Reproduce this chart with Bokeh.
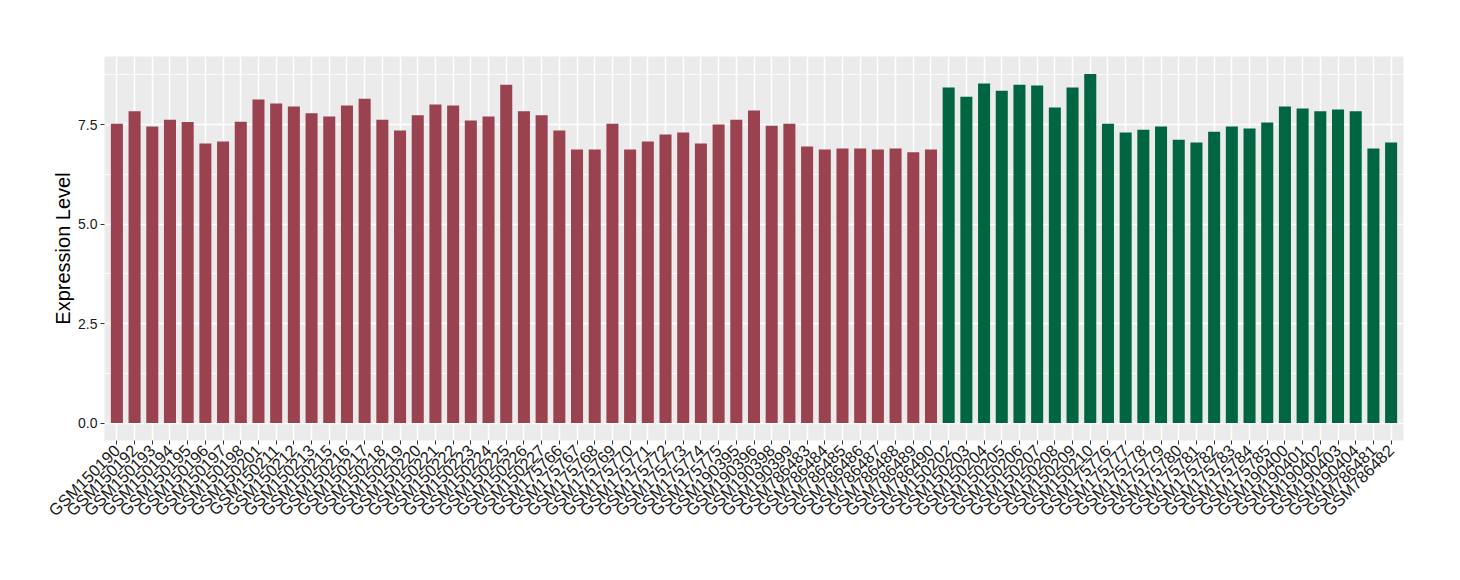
import math
from bokeh.plotting import figure
from bokeh.models import FactorRange, Range1d, FixedTicker, ColumnDataSource
from bokeh.embed import file_html
from bokeh.resources import INLINE

group_a_samples = [
    "GSM150190", "GSM150192", "GSM150193", "GSM150194", "GSM150195", "GSM150196",
    "GSM150197", "GSM150198", "GSM150201", "GSM150211", "GSM150212", "GSM150213",
    "GSM150215", "GSM150216", "GSM150217", "GSM150218", "GSM150219", "GSM150220",
    "GSM150221", "GSM150222", "GSM150223", "GSM150224", "GSM150225", "GSM150226",
    "GSM150227", "GSM175766", "GSM175767", "GSM175768", "GSM175769", "GSM175770",
    "GSM175771", "GSM175772", "GSM175773", "GSM175774", "GSM175775", "GSM190395",
    "GSM190396", "GSM190398", "GSM190399", "GSM786483", "GSM786484", "GSM786485",
    "GSM786486", "GSM786487", "GSM786488", "GSM786489", "GSM786490",
]
group_a_values = [
    7.52, 7.83, 7.45, 7.62, 7.56, 7.02, 7.07, 7.57, 8.13, 8.03, 7.95, 7.78,
    7.70, 7.98, 8.15, 7.62, 7.35, 7.73, 8.00, 7.98, 7.60, 7.70, 8.50, 7.83,
    7.73, 7.35, 6.87, 6.87, 7.52, 6.87, 7.07, 7.25, 7.30, 7.02, 7.50, 7.62,
    7.85, 7.47, 7.52, 6.95, 6.87, 6.90, 6.90, 6.87, 6.90, 6.80, 6.87,
]
group_b_samples = [
    "GSM150202", "GSM150203", "GSM150204", "GSM150205", "GSM150206", "GSM150207",
    "GSM150208", "GSM150209", "GSM150210", "GSM175776", "GSM175777", "GSM175778",
    "GSM175779", "GSM175780", "GSM175781", "GSM175782", "GSM175783", "GSM175784",
    "GSM175785", "GSM190400", "GSM190401", "GSM190402", "GSM190403", "GSM190404",
    "GSM786481", "GSM786482",
]
group_b_values = [
    8.43, 8.20, 8.53, 8.35, 8.50, 8.48, 7.93, 8.43, 8.77, 7.52, 7.30, 7.37,
    7.45, 7.12, 7.05, 7.32, 7.45, 7.40, 7.55, 7.95, 7.90, 7.83, 7.88, 7.83,
    6.90, 7.05,
]
y_ticks = [0.0, 2.5, 5.0, 7.5]
y_minor = [1.25, 3.75, 6.25, 8.75]

color_a = "#9B4250"
color_b = "#006642"

samples = group_a_samples + group_b_samples
values = group_a_values + group_b_values
colors = [color_a] * len(group_a_samples) + [color_b] * len(group_b_samples)

src = ColumnDataSource(dict(x=samples, top=values, color=colors))

vmax = max(values)
p = figure(
    width=1444, height=564,
    x_range=FactorRange(factors=samples, range_padding=0.2, range_padding_units="absolute"),
    y_range=Range1d(-0.05 * vmax, 1.05 * vmax),
    output_backend="svg", toolbar_location=None,
    min_border_left=104, min_border_right=41, min_border_top=56, min_border_bottom=124,
)
p.vbar(x="x", top="top", bottom=0, width=0.68, color="color", source=src, line_color=None)

p.background_fill_color = "#EBEBEB"
p.border_fill_color = "white"
p.outline_line_color = None

p.xgrid.grid_line_color = "white"
p.xgrid.grid_line_width = 1.5
p.ygrid.grid_line_color = "white"
p.ygrid.grid_line_width = 1.5
p.ygrid.minor_grid_line_color = "white"
p.ygrid.minor_grid_line_width = 0.8

p.yaxis.ticker = FixedTicker(ticks=y_ticks, minor_ticks=y_minor)
p.yaxis.major_label_overrides = {t: f"{t:.1f}" for t in y_ticks}
p.yaxis.axis_label = "Expression Level"
p.yaxis.axis_label_text_font = "Liberation Sans"
p.yaxis.axis_label_text_font_size = "20px"
p.yaxis.axis_label_text_font_style = "normal"
p.yaxis.axis_label_text_color = "black"
p.yaxis.axis_label_standoff = 1

for ax in (p.xaxis[0], p.yaxis[0]):
    ax.axis_line_color = None
    ax.major_tick_line_color = "#333333"
    ax.major_tick_in = 0
    ax.major_tick_out = 4
    ax.minor_tick_line_color = None
    ax.major_label_text_font = "Liberation Sans"
    ax.major_label_text_color = "#1A1A1A"
    ax.major_label_standoff = 3

p.yaxis.major_label_text_font_size = "14px"
p.xaxis.major_label_text_font_size = "16.5px"
p.xaxis.major_label_orientation = math.pi / 4

with open("out.html", "w") as f:
    f.write(file_html(p, INLINE))
